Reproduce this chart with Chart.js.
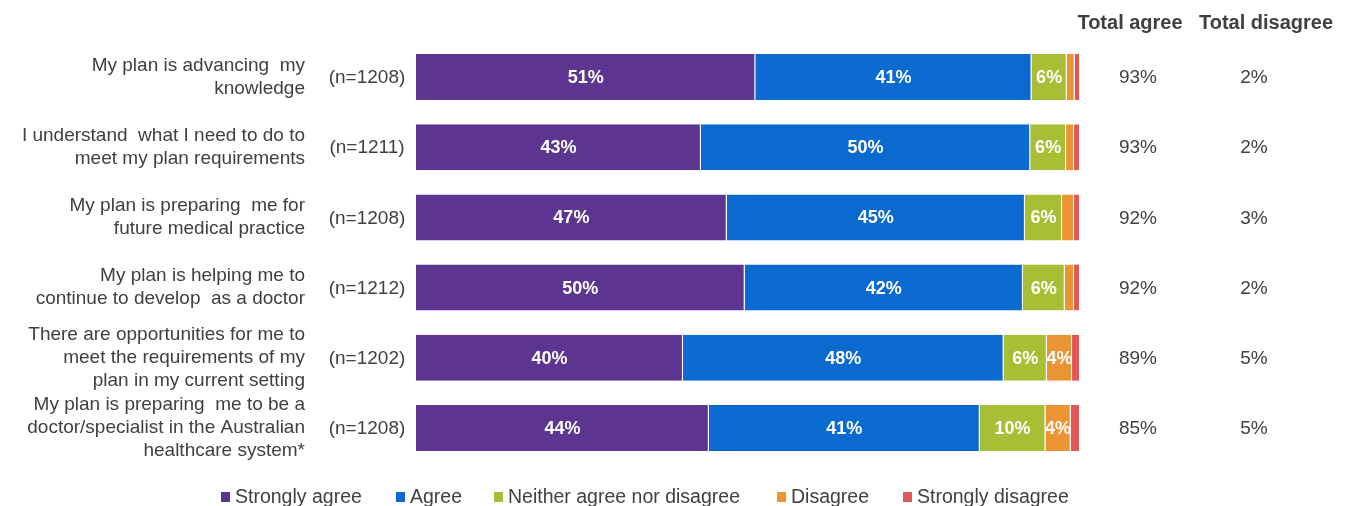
<!DOCTYPE html>
<html>
<head>
<meta charset="utf-8">
<script src="https://cdn.jsdelivr.net/npm/chart.js@4"></script>
<style>
  html, body { margin: 0; padding: 0; background: #fff; }
  #wrap { width: 1347px; height: 506px; position: relative; }
</style>
</head>
<body>
<div id="wrap"><canvas id="planChart" width="1347" height="506"></canvas></div>
<script>
// Data
const categories = [
  ['My plan is advancing  my', 'knowledge'],
  ['I understand  what I need to do to', 'meet my plan requirements'],
  ['My plan is preparing  me for', 'future medical practice'],
  ['My plan is helping me to', 'continue to develop  as a doctor'],
  ['There are opportunities for me to', 'meet the requirements of my', 'plan in my current setting'],
  ['My plan is preparing  me to be a', 'doctor/specialist in the Australian', 'healthcare system*']
];
const sampleSizes = ['(n=1208)', '(n=1211)', '(n=1208)', '(n=1212)', '(n=1202)', '(n=1208)'];

const stronglyAgree    = [51.1, 42.9, 46.8, 49.5, 40.2, 44.1];
const agree            = [41.6, 49.6, 44.9, 41.9, 48.3, 40.8];
const neither          = [5.3, 5.4, 5.6, 6.3, 6.5, 9.9];
const disagree         = [1.2, 1.2, 1.8, 1.4, 3.8, 3.8];
const stronglyDisagree = [0.8, 0.9, 0.9, 0.9, 1.2, 1.4];

// labels printed on the bars (rounded in the source)
const stronglyAgreeLabels = ['51%', '43%', '47%', '50%', '40%', '44%'];
const agreeLabels         = ['41%', '50%', '45%', '42%', '48%', '41%'];
const neitherLabels       = ['6%', '6%', '6%', '6%', '6%', '10%'];
const disagreeLabels      = ['', '', '', '', '4%', '4%'];
const stronglyDisagreeLabels = ['', '', '', '', '', ''];

const totalAgree    = ['93%', '93%', '92%', '92%', '89%', '85%'];
const totalDisagree = ['2%', '2%', '3%', '2%', '5%', '5%'];

const seriesNames = ['Strongly agree', 'Agree', 'Neither agree nor disagree', 'Disagree', 'Strongly disagree'];
const colors = ['#5b3590', '#0a6ad0', '#a8be34', '#ea9434', '#e05858'];

const FONT = '"Liberation Sans", Arial, sans-serif';
const TEXT = '#404040';

const series = [stronglyAgree, agree, neither, disagree, stronglyDisagree];
const barLabels = [stronglyAgreeLabels, agreeLabels, neitherLabels, disagreeLabels, stronglyDisagreeLabels];

const datasets = series.map((values, i) => ({
  label: seriesNames[i],
  data: values,
  backgroundColor: colors[i],
  borderColor: 'rgba(255,255,255,0.35)',
  borderWidth: { left: 0, right: 1, top: 0, bottom: 0 },
  borderSkipped: false,
  categoryPercentage: 1,
  barPercentage: 0.655
}));

// Text around the bars: categories, n, totals, bar labels, legend
const textPlugin = {
  id: 'surveyText',
  afterDatasetsDraw(chart) {
    const ctx = chart.ctx;
    const yScale = chart.scales.y;
    ctx.save();

    // bar labels
    ctx.font = 'bold 18px ' + FONT;
    ctx.fillStyle = '#fff';
    ctx.textAlign = 'center';
    ctx.textBaseline = 'middle';
    chart.data.datasets.forEach((ds, d) => {
      chart.getDatasetMeta(d).data.forEach((bar, i) => {
        const txt = barLabels[d][i];
        if (!txt) return;
        ctx.fillText(txt, (bar.x + bar.base) / 2, bar.y + 1);
      });
    });

    // headers
    ctx.fillStyle = TEXT;
    ctx.font = 'bold 20px ' + FONT;
    ctx.fillText('Total agree', 1130, 23);
    ctx.fillText('Total disagree', 1266, 23);

    ctx.font = '19px ' + FONT;
    categories.forEach((lines, i) => {
      const yc = yScale.getPixelForValue(i);
      const lh = 23;
      ctx.textAlign = 'right';
      lines.forEach((line, k) => {
        ctx.fillText(line, 305, yc + (k - (lines.length - 1) / 2) * lh);
      });
      ctx.textAlign = 'center';
      ctx.fillText(sampleSizes[i], 367, yc + 1);
      ctx.fillText(totalAgree[i], 1138, yc + 1);
      ctx.fillText(totalDisagree[i], 1254, yc + 1);
    });

    // legend
    const legendX = [221, 396, 494, 777, 903];
    ctx.textAlign = 'left';
    ctx.font = '19.5px ' + FONT;
    seriesNames.forEach((name, i) => {
      ctx.fillStyle = colors[i];
      ctx.fillRect(legendX[i], 492, 9, 10);
      ctx.fillStyle = TEXT;
      ctx.fillText(name, legendX[i] + 14, 498);
    });

    ctx.restore();
  }
};

new Chart(document.getElementById('planChart'), {
  type: 'bar',
  data: { labels: categories.map(c => c.join(' ')), datasets: datasets },
  options: {
    indexAxis: 'y',
    responsive: false,
    animation: false,
    layout: { padding: { left: 416, right: 267, top: 42, bottom: 43 } },
    scales: {
      x: { stacked: true, min: 0, max: 100, display: false },
      y: { stacked: true, display: false }
    },
    plugins: {
      legend: { display: false },
      tooltip: { enabled: false }
    }
  },
  plugins: [textPlugin]
});
</script>
</body>
</html>
